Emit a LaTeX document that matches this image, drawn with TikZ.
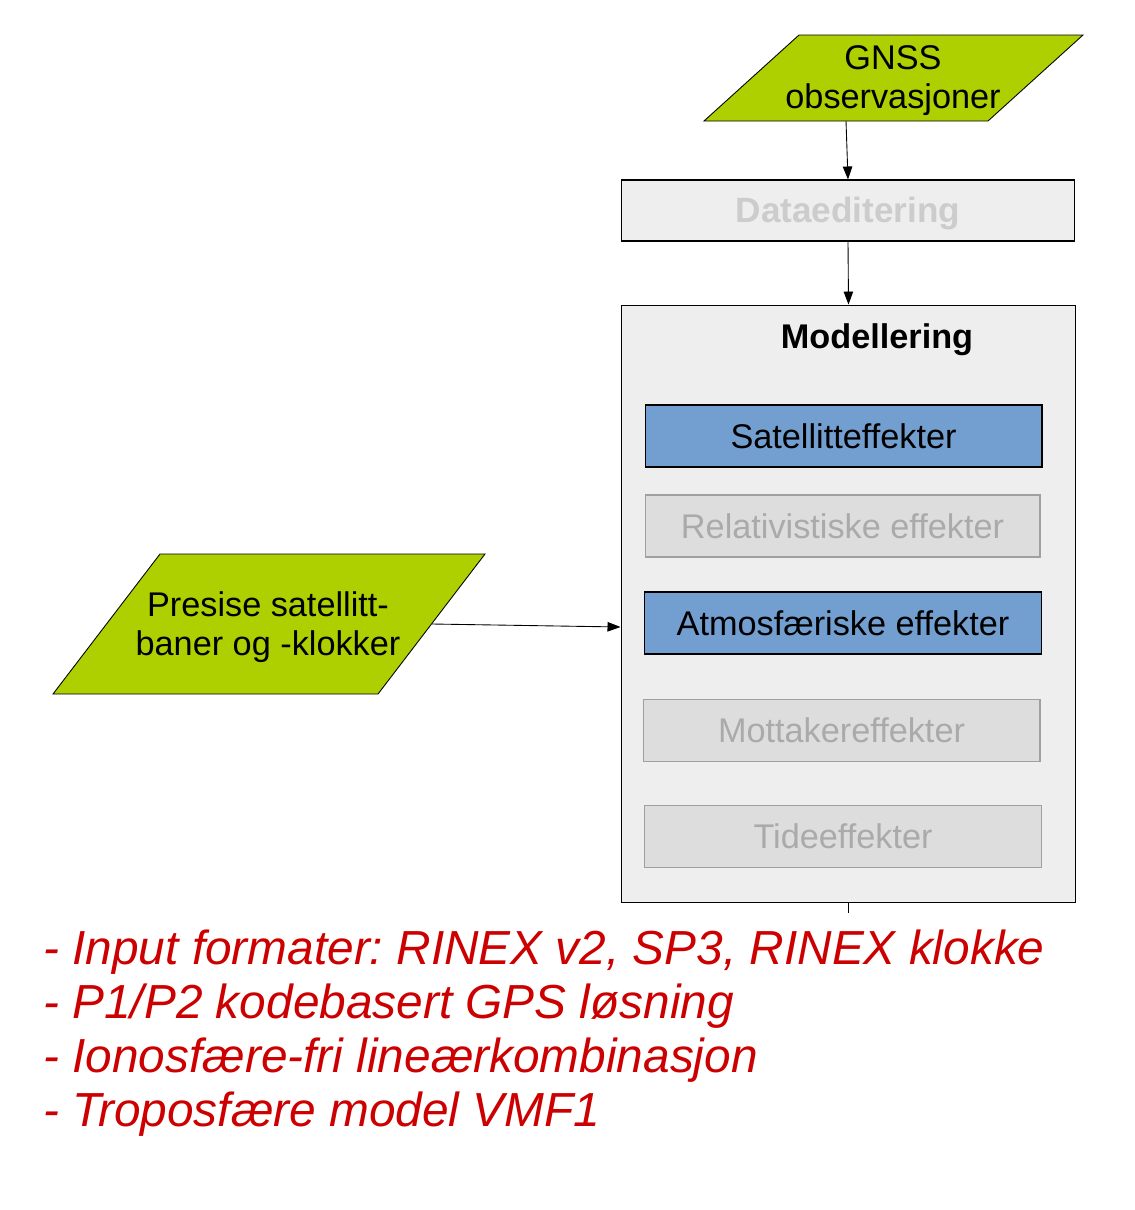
\documentclass[tikz,border=0pt]{standalone}
\usepackage{fontspec}
\setmainfont{Liberation Sans}
\usetikzlibrary{arrows.meta}
\frenchspacing
\definecolor{paragreen}{RGB}{174,207,0}
\definecolor{modblue}{RGB}{114,159,207}
\definecolor{outerfill}{RGB}{238,238,238}
\definecolor{offfill}{RGB}{221,221,221}
\definecolor{offline}{RGB}{160,160,160}
\definecolor{offtext}{RGB}{170,170,170}
\definecolor{notered}{RGB}{204,0,0}
\tikzset{
  flow/.style={line width=0.5pt, -{Triangle[length=2.6mm,width=1.9mm]}},
  datapara/.style={fill=paragreen, draw=black, line width=0.5pt},
  boxtext/.style={font=\fontsize{19.5}{22.2}\selectfont, align=center, inner sep=0pt},
  stepbox/.style={draw=black, line width=0.6pt, fill=outerfill, minimum width=9.08cm, minimum height=1.22cm, inner sep=0pt},
  onbox/.style={draw=black, line width=0.6pt, fill=modblue, minimum width=7.94cm, minimum height=1.24cm, inner sep=0pt, font=\fontsize{19.5}{22.2}\selectfont},
  offbox/.style={draw=offline, line width=0.6pt, fill=offfill, text=offtext, minimum width=7.94cm, minimum height=1.24cm, inner sep=0pt, font=\fontsize{19.5}{22.2}\selectfont}
}

\begin{document}
\begin{tikzpicture}[x=0.02cm, y=-0.02cm]
			%%%%% START %%%%%
			\useasboundingbox (0, 0) rectangle (1134, 1210);
			
			% GNSS observasjoner
			\draw[datapara] (704, 121) -- (799, 35) -- (1083, 35) -- (988, 121) -- cycle;
			\node[boxtext] (gnss) at (893, 81) {GNSS\\observasjoner};
			\coordinate (gnssout) at (846, 121);
			
			% Dataeditering
			\node[stepbox, text=black!20, text height=14.6pt, text depth=0.8pt, font=\fontsize{20}{24}\selectfont\bfseries] (dataed) at (848, 210.5) {Dataeditering};
			
			% Modellering
			\node[stepbox, minimum width=9.1cm, minimum height=11.96cm] (model) at (848.5, 604) {};
			\node[font=\fontsize{19.5}{22.2}\selectfont\bfseries, inner sep=0pt] (modtitle) at (877, 340) {Modellering};
			
			\node[onbox] (sat) at (843.5, 436) {Satellitteffekter};
			\node[offbox, minimum width=7.9cm] (rel) at (842.5, 526) {Relativistiske effekter};
			\node[onbox] (atm) at (843, 623) {Atmosfæriske effekter};
			\node[offbox] (mot) at (841.5, 730.5) {Mottakereffekter};
			\node[offbox] (tide) at (843, 836.5) {Tideeffekter};
			
			% Presise baner og klokker
			\draw[datapara] (53, 694) -- (160, 554) -- (485, 554) -- (378, 694) -- cycle;
			\node[boxtext] (presise) at (268, 627) {Presise satellitt-\\baner og -klokker};
			\coordinate (presout) at (432, 624);
			
			% connectors
			\draw[flow] (gnssout) -- (dataed.north);
			\draw[flow] (dataed.south) -- (model.north);
			\draw[flow] (presout) -- ([yshift=-0.08cm]atm.west -| model.west);
			\draw[line width=0.5pt] (model.south) -- ++(0, 10);
			
			% notes
			\node[anchor=north west, align=left, inner sep=0pt, text=notered, font=\fontsize{27.2}{30.7}\selectfont\itshape] (notes) at (43, 930) {- Input formater: RINEX v2, SP3, RINEX klokke\\- P1/P2 kodebasert GPS løsning\\- Ionosfære-fri lineærkombinasjon\\- Troposfære model VMF1};
			
			%%%%% END %%%%%
		\end{tikzpicture}
\end{document}
